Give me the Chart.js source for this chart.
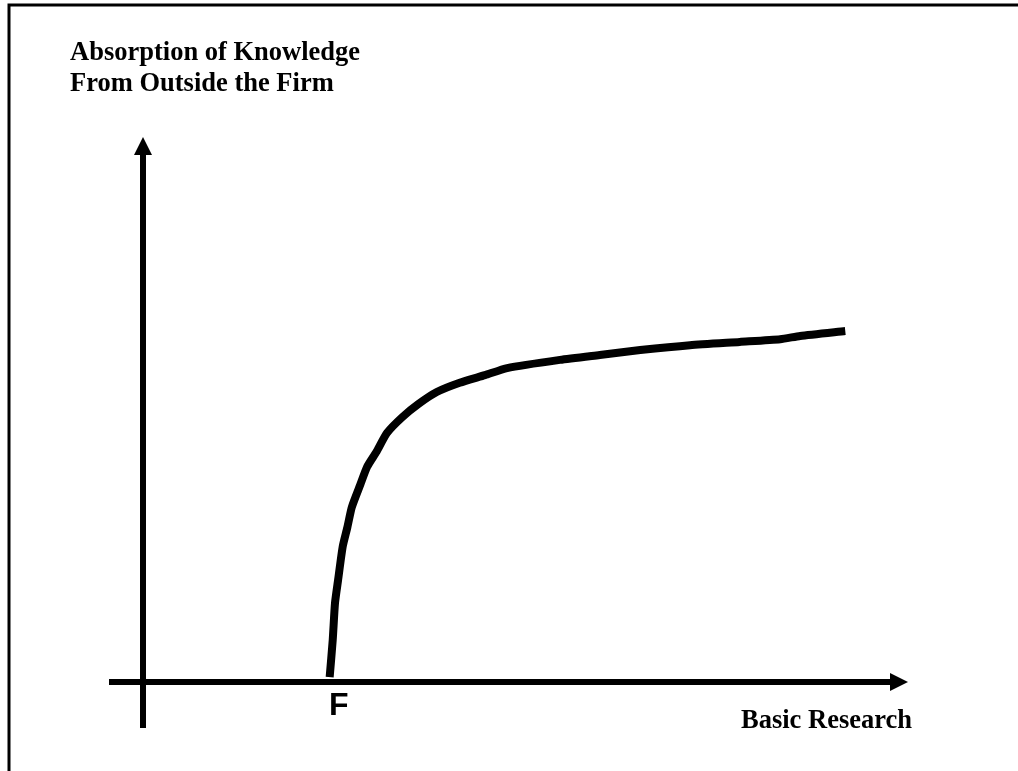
<!DOCTYPE html>
<html>
<head>
<meta charset="utf-8">
<title>Absorption of Knowledge vs Basic Research</title>
<script src="https://cdn.jsdelivr.net/npm/chart.js@4/dist/chart.umd.min.js"></script>
<style>
  body { margin: 0; background: #fff; }
  canvas { display: block; }
</style>
</head>
<body>
<canvas id="absorbChart" width="1018" height="771"></canvas>
<script>
// basic research (x) against absorption of outside knowledge (y), 0..100 units
const researchX = [24.4, 24.8, 25.1, 25.5, 26.1, 26.7, 27.3, 28.4, 29.3, 30.5, 31.9, 33.9, 36.0, 38.4, 41.4, 44.7, 47.6, 54.5, 59.7, 65.0, 71.5, 78.0, 83.3, 85.9, 91.8]
const absorptionY = [0.9, 7.7, 14.5, 18.7, 24.8, 28.3, 32.1, 36.2, 39.5, 42.2, 45.7, 48.6, 51.0, 53.2, 54.9, 56.3, 57.6, 59.1, 60.0, 60.9, 61.8, 62.4, 62.9, 63.5, 64.4]

const yTitle = ['Absorption of Knowledge', 'From Outside the Firm']
const xTitle = 'Basic Research'
const thresholdLabel = 'F'

let curvePoints = researchX.map((x, i) => ({ x: x, y: absorptionY[i] }))

// axes with arrow heads, frame and the text labels
const diagramPlugin = {
  id: 'diagram',
  afterDraw(chart) {
    const ctx = chart.ctx
    const area = chart.chartArea
    const xs = chart.scales.x
    const ys = chart.scales.y
    const ox = xs.getPixelForValue(0)
    const oy = ys.getPixelForValue(0)

    ctx.save()
    ctx.strokeStyle = '#000'
    ctx.fillStyle = '#000'

    // frame (top and left edges)
    ctx.lineWidth = 3
    ctx.beginPath()
    ctx.moveTo(9, 771)
    ctx.lineTo(9, 5)
    ctx.lineTo(1018, 5)
    ctx.stroke()

    // axes
    ctx.lineWidth = 6
    ctx.beginPath()
    ctx.moveTo(109, oy)
    ctx.lineTo(area.right - 16, oy)
    ctx.moveTo(ox, 728)
    ctx.lineTo(ox, area.top + 16)
    ctx.stroke()

    // arrow heads
    ctx.beginPath()
    ctx.moveTo(area.right, oy)
    ctx.lineTo(area.right - 18, oy - 9)
    ctx.lineTo(area.right - 18, oy + 9)
    ctx.closePath()
    ctx.fill()
    ctx.beginPath()
    ctx.moveTo(ox, area.top)
    ctx.lineTo(ox - 9, area.top + 18)
    ctx.lineTo(ox + 9, area.top + 18)
    ctx.closePath()
    ctx.fill()

    // labels
    ctx.textBaseline = 'alphabetic'
    ctx.textAlign = 'left'
    ctx.font = 'bold 26.5px "Liberation Serif", "Times New Roman", serif'
    ctx.fillText(yTitle[0], 70, 60)
    ctx.fillText(yTitle[1], 70, 91)
    ctx.fillText(xTitle, 741, 728)

    ctx.font = 'bold 32px "Liberation Sans", Arial, sans-serif'
    ctx.fillText(thresholdLabel, 329, 715)
    ctx.restore()
  },
}

let absorbCtx = document.getElementById('absorbChart').getContext('2d')

let absorbChart = new Chart(absorbCtx, {
  type: 'scatter',
  data: {
    datasets: [
      {
        data: curvePoints,
        showLine: true,
        borderColor: '#000',
        borderWidth: 8,
        borderCapStyle: 'butt',
        borderJoinStyle: 'round',
        pointRadius: 0,
        tension: 0.2,
        fill: false,
      },
    ],
  },
  options: {
    responsive: false,
    animation: false,
    layout: {
      padding: { left: 143, right: 110, top: 137, bottom: 89 },
    },
    scales: {
      x: { type: 'linear', min: 0, max: 100, display: false },
      y: { type: 'linear', min: 0, max: 100, display: false },
    },
    plugins: {
      legend: { display: false },
      tooltip: { enabled: false },
      title: { display: false },
    },
  },
  plugins: [diagramPlugin],
})
</script>
</body>
</html>
